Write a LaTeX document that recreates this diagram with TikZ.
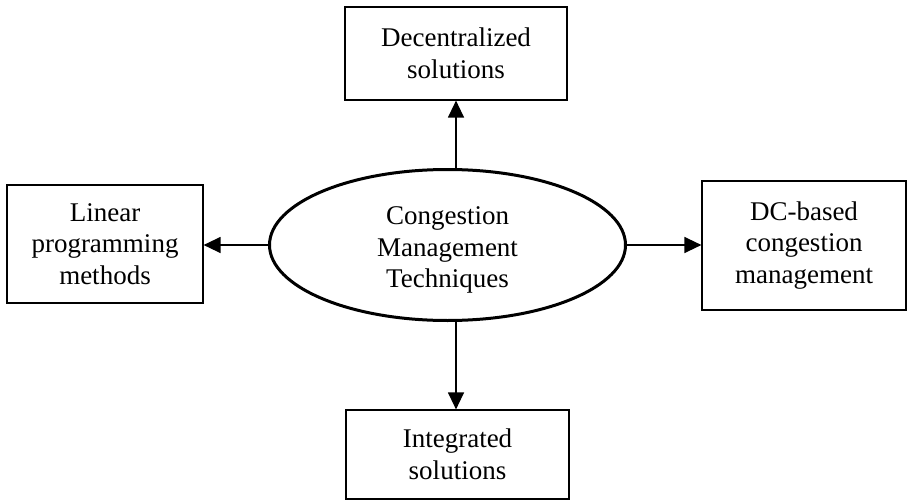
\documentclass[tikz,border=0pt]{standalone}
\usepackage{fontspec}
\setmainfont{Liberation Serif}
\usetikzlibrary{shapes.geometric,arrows.meta}
\begin{document}
\begin{tikzpicture}[x=1pt,y=-1pt,
  every node/.style={font=\fontsize{27}{31.5}\selectfont, align=center, inner sep=0pt},
  boxnode/.style={draw=black, line width=1.2pt, rectangle},
  ellnode/.style={draw=black, line width=3pt, ellipse},
  arr/.style={draw=black, line width=1.3pt, -{Triangle[length=17pt,width=16pt]}}]
\useasboundingbox (0,0) rectangle (907,500);
\node[boxnode, minimum width=222pt, minimum height=93pt] (top) at (456,53.5) {Decentralized\\solutions};
\node[boxnode, minimum width=196pt, minimum height=118pt] (left) at (105,244) {Linear\\programming\\methods};
\node[boxnode, minimum width=204pt, minimum height=129pt] (right) at (804,245.5) {DC-based\\congestion\\management};
\node[boxnode, minimum width=223pt, minimum height=89pt] (bot) at (457.5,454.5) {Integrated\\solutions};
\node[ellnode, minimum width=356pt, minimum height=151pt] (ell) at (447.5,245) {};
\node (elltext) at (447.5,250) {Congestion\\Management\\Techniques};
\draw[arr] (ell.north -| top.south) -- (top.south);
\draw[arr] (ell.south -| top.south) -- (top.south |- bot.north);
\draw[arr] (ell.west) -- (left.east |- ell.west);
\draw[arr] (ell.east) -- (right.west |- ell.east);
\end{tikzpicture}
\end{document}
